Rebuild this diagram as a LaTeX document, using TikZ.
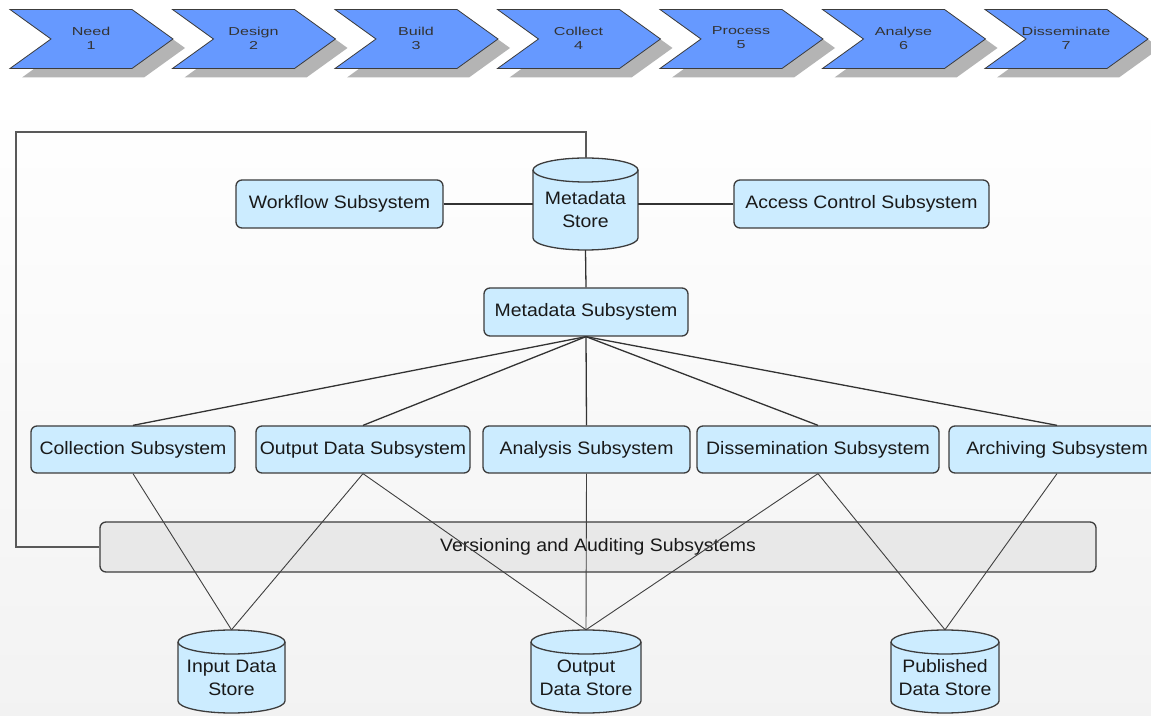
\documentclass[tikz,border=0pt]{standalone}
\usepackage{fontspec}
\setmainfont{Liberation Sans}
\newfontfamily\boxfont[FakeStretch=1.08]{Liberation Sans}
\newfontfamily\stepfont[FakeStretch=1.4]{Liberation Sans}
\usetikzlibrary{calc}

\definecolor{chevblue}{RGB}{102,153,255}
\definecolor{boxblue}{RGB}{204,236,255}
\definecolor{shadowgray}{RGB}{180,180,180}
\definecolor{edgegray}{RGB}{60,60,60}
\definecolor{verfill}{RGB}{232,232,232}

% data store: name, centre x, top y, bottom y, half width, label
\newcommand\drawstore[6]{%
  \node[inner sep=0pt, minimum width=2*#5pt, minimum height=#3pt-#4pt] (#1) at (#2,{(#3+#4)/2}) {};
  \path[storeline, fill=boxblue]
    (#2-#5,#3-12) -- (#2-#5,#4+12)
    arc[start angle=180, end angle=360, x radius=#5, y radius=12]
    -- (#2+#5,#3-12)
    arc[start angle=0, end angle=180, x radius=#5, y radius=12] -- cycle;
  \path[storeline] (#2-#5,#3-12) arc[start angle=180, end angle=360, x radius=#5, y radius=12];
  \node[storetext] (#1-label) at (#2,{(#3+#4)/2-6}) {#6};
}

\begin{document}
\begin{tikzpicture}[x=1pt,y=1pt,
  sub/.style={draw=edgegray, line width=1.3pt, fill=boxblue, rounded corners=6pt,
    minimum height=48pt, inner sep=0pt, text=black!90,
    font=\boxfont\fontsize{18}{22}\selectfont},
  storeline/.style={draw=edgegray, line width=1.3pt},
  storetext/.style={align=center, inner sep=0pt, text=black!90,
    font=\boxfont\fontsize{18}{23}\selectfont},
  link/.style={draw=black!80, line width=1.3pt},
  xlink/.style={draw=black!75, line width=0.9pt},
  loopline/.style={draw=black!65, line width=2pt},
  steptext/.style={align=center, inner sep=0pt, text=black!80,
    font=\stepfont\fontsize{11.5}{14}\selectfont},
]
\clip (0,0) rectangle (1151,715);
\fill[white] (0,0) rectangle (1151,715);
\shade[top color=white, bottom color=black!5] (0,0) rectangle (1151,620);

% process steps along the top
\foreach \i/\name/\num in {0/Need/1,1/Design/2,2/Build/3,3/Collect/4,4/Process/5,5/Analyse/6,6/Disseminate/7}{
  \pgfmathsetmacro\xo{10+162.5*\i}
  \fill[shadowgray] (\xo+12,696.5) -- ++(122,0) -- ++(41,-29.5) -- ++(-41,-29.5)
    -- ++(-122,0) -- ++(41,29.5) -- cycle;
  \draw[edgegray, fill=chevblue, line width=0.8pt] (\xo,705.5) -- ++(122,0) -- ++(41,-29.5)
    -- ++(-41,-29.5) -- ++(-122,0) -- ++(41,29.5) -- cycle;
  \node[steptext] (step\num) at (\xo+81,677) {\name\\\num};
}

% subsystems
\node[sub, minimum width=207pt] (wf) at (339.5,511) {Workflow Subsystem};
\node[sub, minimum width=255pt] (acc) at (861.5,511) {Access Control Subsystem};
\node[sub, minimum width=204pt] (msub) at (586,403) {Metadata Subsystem};

\node[sub, minimum width=204pt, minimum height=47pt] (coll) at (133,265.5) {Collection Subsystem};
\node[sub, minimum width=214pt, minimum height=47pt] (outsub) at (363,265.5) {Output Data Subsystem};
\node[sub, minimum width=207pt, minimum height=47pt] (ana) at (586.5,265.5) {Analysis Subsystem};
\node[sub, minimum width=242pt, minimum height=47pt] (diss) at (818,265.5) {Dissemination Subsystem};
\node[sub, minimum width=216pt, minimum height=47pt] (arch) at (1057,265.5) {Archiving Subsystem};

\node[sub, fill=verfill, minimum width=996pt, minimum height=50pt] (vers) at (598,168)
  {Versioning and Auditing Subsystems};

% data stores
\drawstore{mstore}{585.5}{557}{465}{52.5}{Metadata\\Store}
\drawstore{ids}{231.5}{85}{2}{53.5}{Input Data\\Store}
\drawstore{ods}{586}{85}{2}{55}{Output\\Data Store}
\drawstore{pds}{945}{85}{2}{54}{Published\\Data Store}

% connectors
\draw[loopline] (vers.west) -| (16,583) -| (mstore.north);
\draw[link] (wf.east) -- (mstore.west |- wf.east);
\draw[link] (mstore.east |- acc.west) -- (acc.west);
\draw[link] (mstore.south) -- (msub.north);
\foreach \n in {coll,outsub,ana,diss,arch}
  \draw[link] (msub.south) -- (\n.north);

\draw[xlink] (coll.south) -- (ids.north);
\draw[xlink] (outsub.south) -- (ids.north);
\draw[xlink] (outsub.south) -- (ods.north);
\draw[xlink] (ana.south) -- (ods.north);
\draw[xlink] (diss.south) -- (ods.north);
\draw[xlink] (diss.south) -- (pds.north);
\draw[xlink] (arch.south) -- (pds.north);
\end{tikzpicture}
\end{document}
